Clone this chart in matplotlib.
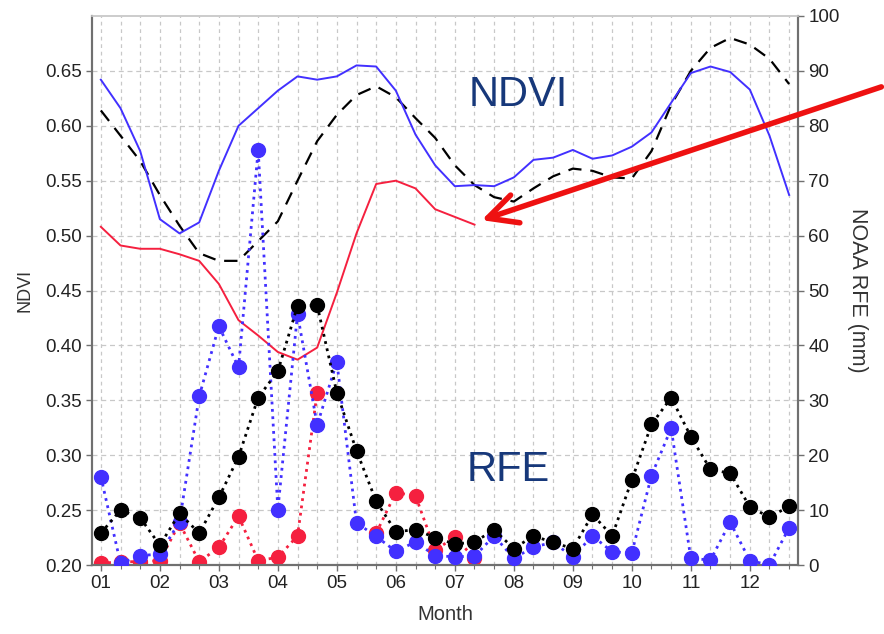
import numpy as np
import matplotlib
matplotlib.use("Agg")
import matplotlib.pyplot as plt
from matplotlib.ticker import MultipleLocator, FixedLocator

plt.rcParams['font.family'] = ['Liberation Sans', 'DejaVu Sans']

# 36 dekads (3 per month)
dekads = np.arange(36)
month_labels = ["01", "02", "03", "04", "05", "06", "07", "08", "09", "10", "11", "12"]

# NDVI curves (left axis)
ndvi_current = [0.642, 0.616, 0.577, 0.515, 0.502, 0.512, 0.559, 0.600, 0.616, 0.632,
                0.645, 0.642, 0.645, 0.655, 0.654, 0.632, 0.592, 0.564, 0.545, 0.546,
                0.545, 0.553, 0.569, 0.571, 0.578, 0.570, 0.573, 0.581, 0.594, 0.621,
                0.648, 0.654, 0.649, 0.633, 0.591, 0.537]
ndvi_average = [0.614, 0.591, 0.568, 0.537, 0.509, 0.484, 0.477, 0.477, 0.495, 0.513,
                0.550, 0.586, 0.610, 0.628, 0.636, 0.626, 0.607, 0.589, 0.564, 0.546,
                0.535, 0.531, 0.543, 0.554, 0.561, 0.559, 0.553, 0.552, 0.577, 0.619,
                0.650, 0.671, 0.680, 0.674, 0.661, 0.638]
ndvi_latest = [0.508, 0.491, 0.488, 0.488, 0.483, 0.477, 0.456, 0.423, 0.409, 0.394,
               0.387, 0.398, 0.448, 0.502, 0.547, 0.550, 0.543, 0.524, 0.517, 0.510] + [np.nan] * 16

# Rainfall estimates in mm (right axis)
rfe_average = [5.8, 10.0, 8.6, 3.6, 9.4, 5.8, 12.3, 19.7, 30.5, 35.3,
               47.2, 47.3, 31.4, 20.8, 11.6, 6.1, 6.4, 5.0, 3.8, 4.2,
               6.4, 3.0, 5.3, 4.1, 3.0, 9.2, 5.3, 15.5, 25.6, 30.5,
               23.4, 17.4, 16.7, 10.6, 8.7, 10.7]
rfe_current = [16.1, 0.3, 1.7, 2.0, 7.9, 30.7, 43.5, 36.0, 75.6, 10.1,
               45.7, 25.5, 37.0, 7.7, 5.2, 2.5, 4.2, 1.7, 1.5, 1.6,
               5.3, 1.2, 3.3, 4.1, 1.5, 5.3, 2.4, 2.2, 16.3, 24.9,
               1.2, 0.9, 7.8, 0.8, 0.0, 6.8]
rfe_latest = [0.3, 0.6, 0.6, 0.8, 7.6, 0.6, 3.2, 8.9, 0.8, 1.4,
              5.3, 31.4, np.nan, np.nan, 5.8, 13.2, 12.6, 2.7, 5.1, 1.2] + [np.nan] * 16

blue = "#4230ff"
red = "#f5203f"
navy = "#17387a"
spine_col = "#707070"

fig = plt.figure(figsize=(8.84, 6.34), dpi=100)
ax = fig.add_axes([92 / 884, 69 / 634, 706 / 884, 549 / 634])
ax2 = ax.twinx()

# NDVI lines
ax.plot(dekads, ndvi_latest, color=red, lw=1.4, zorder=3)
ax.plot(dekads, ndvi_average, color="black", lw=1.6, ls=(0, (6, 4)), zorder=3)
ax.plot(dekads, ndvi_current, color=blue, lw=1.4, zorder=3)

# RFE dotted lines with dots
ms = 10
ax2.plot(dekads, rfe_latest, color=red, ls=":", lw=2, marker="o", ms=ms, zorder=2)
ax2.plot(dekads, rfe_current, color=blue, ls=":", lw=2, marker="o", ms=ms, zorder=3)
ax2.plot(dekads, rfe_average, color="black", ls=":", lw=2, marker="o", ms=ms, zorder=4)

ax.set_xlim(-0.45, 35.45)
ax.set_ylim(0.2, 0.7)
ax2.set_ylim(0, 100)

ax.xaxis.set_major_locator(FixedLocator(np.arange(0, 36, 3)))
ax.set_xticklabels(month_labels)
ax.xaxis.set_minor_locator(MultipleLocator(1))
ax.yaxis.set_major_locator(FixedLocator(np.arange(0.20, 0.66, 0.05)))
ax.yaxis.set_major_formatter(matplotlib.ticker.FormatStrFormatter("%.2f"))
ax2.yaxis.set_major_locator(FixedLocator(np.arange(0, 101, 10)))

ax.grid(True, which="both", axis="x", color="#c8c8c8", ls=(0, (3, 3)), lw=0.9)
ax.grid(True, which="major", axis="y", color="#c8c8c8", ls=(0, (4, 3)), lw=0.9)
ax.set_axisbelow(True)

for a in (ax, ax2):
    a.tick_params(axis="both", which="major", labelsize=13.5, colors="#222222",
                  length=4, width=1, color=spine_col)
    a.tick_params(axis="x", which="minor", length=3, width=0.8, color=spine_col)
    for s in a.spines.values():
        s.set_color(spine_col)
        s.set_linewidth(1.5)
    a.spines["top"].set_color("#cccccc")
    a.spines["top"].set_linewidth(1.2)
ax.spines["bottom"].set_color("#333333")

ax.set_xlabel("Month", fontsize=14.5, color="#333333", labelpad=9)
ax.set_ylabel("NDVI", fontsize=13, color="#333333", labelpad=8)
ax2.set_ylabel("NOAA RFE (mm)", fontsize=15.5, color="#333333", rotation=-90, labelpad=20)

fig.text(518 / 884, 1 - 95 / 634, "NDVI", fontsize=30, color=navy, ha="center", va="center")
fig.text(508 / 884, 1 - 470 / 634, "RFE", fontsize=30, color=navy, ha="center", va="center")

fig.add_artist(matplotlib.patches.FancyArrowPatch(
    (1.0, 1 - 86 / 634), (479 / 884, 1 - 221 / 634),
    transform=fig.transFigure, arrowstyle="->,head_length=0.7,head_width=0.35",
    mutation_scale=30, color="#ee1111", lw=4, zorder=10))

fig.savefig("out.png", dpi=100)
